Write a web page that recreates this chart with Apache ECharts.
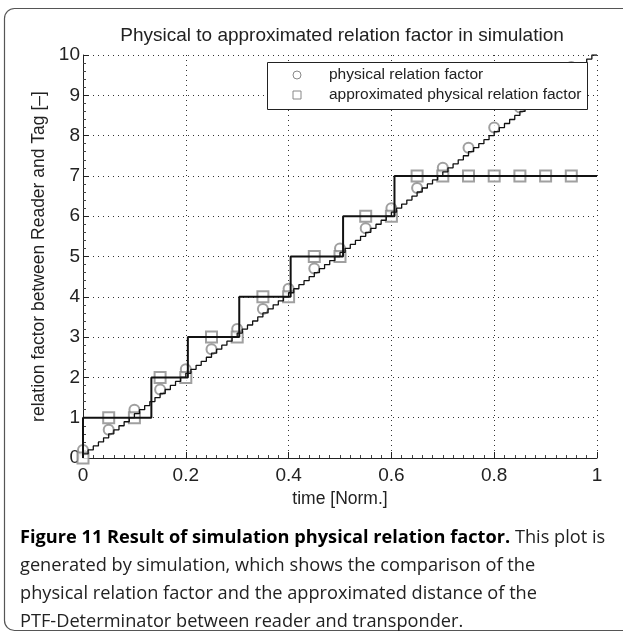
<!DOCTYPE html>
<html>
<head>
<meta charset="utf-8">
<title>Figure 11</title>
<script src="https://cdn.jsdelivr.net/npm/echarts@6/dist/echarts.min.js"></script>
<style>
  html, body { margin: 0; padding: 0; background: #fff; }
  #chart { width: 623px; height: 636px; }
</style>
</head>
<body>
<div id="chart"></div>
<script>
// physical relation factor (fine staircase)
var physTime = [0, 0, 0.01, 0.02, 0.03, 0.04, 0.05, 0.06, 0.07, 0.08, 0.09,
  0.10, 0.11, 0.12, 0.13, 0.14, 0.15, 0.16, 0.17, 0.18, 0.19,
  0.20, 0.21, 0.22, 0.23, 0.24, 0.25, 0.26, 0.27, 0.28, 0.29,
  0.30, 0.31, 0.32, 0.33, 0.34, 0.35, 0.36, 0.37, 0.38, 0.39,
  0.40, 0.41, 0.42, 0.43, 0.44, 0.45, 0.46, 0.47, 0.48, 0.49,
  0.50, 0.51, 0.52, 0.53, 0.54, 0.55, 0.56, 0.57, 0.58, 0.59,
  0.60, 0.61, 0.62, 0.63, 0.64, 0.65, 0.66, 0.67, 0.68, 0.69,
  0.70, 0.71, 0.72, 0.73, 0.74, 0.75, 0.76, 0.77, 0.78, 0.79,
  0.80, 0.81, 0.82, 0.83, 0.84, 0.85, 0.86, 0.87, 0.88, 0.89,
  0.90, 0.91, 0.92, 0.93, 0.94, 0.95, 0.96, 0.97, 0.98, 0.99, 1];
var physFactor = [0, 0.1, 0.2, 0.3, 0.4, 0.5, 0.6, 0.7, 0.8, 0.9, 1.0,
  1.1, 1.2, 1.3, 1.4, 1.5, 1.6, 1.7, 1.8, 1.9, 2.0,
  2.1, 2.2, 2.3, 2.4, 2.5, 2.6, 2.7, 2.8, 2.9, 3.0,
  3.1, 3.2, 3.3, 3.4, 3.5, 3.6, 3.7, 3.8, 3.9, 4.0,
  4.1, 4.2, 4.3, 4.4, 4.5, 4.6, 4.7, 4.8, 4.9, 5.0,
  5.1, 5.2, 5.3, 5.4, 5.5, 5.6, 5.7, 5.8, 5.9, 6.0,
  6.1, 6.2, 6.3, 6.4, 6.5, 6.6, 6.7, 6.8, 6.9, 7.0,
  7.1, 7.2, 7.3, 7.4, 7.5, 7.6, 7.7, 7.8, 7.9, 8.0,
  8.1, 8.2, 8.3, 8.4, 8.5, 8.6, 8.7, 8.8, 8.9, 9.0,
  9.1, 9.2, 9.3, 9.4, 9.5, 9.6, 9.7, 9.8, 9.9, 10.0, 10.0];

// markers (circles / squares)
var markTime = [0, 0.05, 0.10, 0.15, 0.20, 0.25, 0.30, 0.35, 0.40, 0.45,
  0.50, 0.55, 0.60, 0.65, 0.70, 0.75, 0.80, 0.85, 0.90, 0.95];
var circleFactor = [0.2, 0.7, 1.2, 1.7, 2.2, 2.7, 3.2, 3.7, 4.2, 4.7,
  5.2, 5.7, 6.2, 6.7, 7.2, 7.7, 8.2, 8.7, 9.2, 9.7];
var squareFactor = [0, 1, 1, 2, 2, 3, 3, 4, 4, 5,
  5, 6, 6, 7, 7, 7, 7, 7, 7, 7];

// approximated relation factor (coarse steps)
var approxTime = [0, 0, 0.133, 0.204, 0.304, 0.404, 0.506, 0.606, 1];
var approxFactor = [0, 1, 2, 3, 4, 5, 6, 7, 7];

var legendNames = ['physical relation factor', 'approximated physical relation factor'];

function zip(xs, ys) {
  var out = [];
  for (var i = 0; i < xs.length; i++) out.push([xs[i], ys[i]]);
  return out;
}

var font = 'Liberation Sans';
var capFont = 'Open Sans';
var chart = echarts.init(document.getElementById('chart'));

chart.setOption({
  animation: false,
  title: {
    text: 'Physical to approximated relation factor in simulation',
    left: 337, top: 21, textAlign: 'center',
    textStyle: { fontFamily: font, fontSize: 19, fontWeight: 'normal', color: '#222' }
  },
  grid: { left: 83, right: 26, top: 55, bottom: 178 },
  xAxis: {
    type: 'value', min: 0, max: 1, interval: 0.2,
    name: 'time [Norm.]', nameLocation: 'middle', nameGap: 29,
    nameTextStyle: { fontFamily: font, fontSize: 17.5, color: '#222' },
    axisLine: { lineStyle: { color: '#222', width: 1 } },
    axisTick: { inside: true, length: 6, lineStyle: { color: '#222' } },
    minorTick: { show: true, splitNumber: 10, length: 3, lineStyle: { color: '#444' } },
    splitLine: { show: true, lineStyle: { color: '#333', type: [1, 4], width: 1 } },
    axisLabel: { fontFamily: font, fontSize: 19, color: '#222', margin: 8 }
  },
  yAxis: {
    type: 'value', min: 0, max: 10, interval: 1,
    name: 'relation factor between Reader and Tag [\u2013]', nameLocation: 'middle', nameGap: 29,
    nameTextStyle: { fontFamily: font, fontSize: 17.5, color: '#222' },
    axisLine: { show: true, lineStyle: { color: '#222', width: 1 } },
    axisTick: { show: true, inside: true, length: 6, lineStyle: { color: '#222' } },
    minorTick: { show: true, splitNumber: 5, length: 3, lineStyle: { color: '#444' } },
    splitLine: { show: true, lineStyle: { color: '#333', type: [1, 4], width: 1 } },
    axisLabel: { fontFamily: font, fontSize: 19, color: '#222', margin: 3 }
  },
  series: [
    {
      name: legendNames[0],
      type: 'scatter',
      symbol: 'emptyCircle', symbolSize: 10,
      itemStyle: { color: '#888', borderWidth: 1 },
      data: zip(markTime, circleFactor), z: 2
    },
    {
      name: legendNames[1],
      type: 'scatter',
      symbol: 'emptyRect', symbolSize: 11,
      itemStyle: { color: '#888', borderWidth: 1 },
      data: zip(markTime, squareFactor), z: 2
    },
    {
      name: 'phys line',
      type: 'line', step: 'end', showSymbol: false,
      lineStyle: { color: '#111', width: 1.3 },
      data: zip(physTime, physFactor), z: 3
    },
    {
      name: 'approx line',
      type: 'line', step: 'end', showSymbol: false,
      lineStyle: { color: '#111', width: 2 },
      data: zip(approxTime, approxFactor), z: 3
    }
  ],
  graphic: [
    {
      type: 'rect', z: 0,
      shape: { x: 4.5, y: 8.5, width: 640, height: 622, r: 10 },
      style: { fill: 'none', stroke: '#555', lineWidth: 1.2 }
    },
    // legend box
    {
      type: 'rect', z: 50,
      shape: { x: 267.5, y: 62.5, width: 320, height: 47 },
      style: { fill: '#fff', stroke: '#222', lineWidth: 1 }
    },
    {
      type: 'circle', z: 51,
      shape: { cx: 297, cy: 75, r: 4 },
      style: { fill: 'none', stroke: '#888', lineWidth: 1 }
    },
    {
      type: 'rect', z: 51,
      shape: { x: 293, y: 91, width: 8, height: 8 },
      style: { fill: 'none', stroke: '#888', lineWidth: 1 }
    },
    {
      type: 'text', z: 51, x: 329, y: 75,
      style: { text: legendNames[0], fontFamily: font, fontSize: 15.5, fill: '#222', verticalAlign: 'middle' }
    },
    {
      type: 'text', z: 51, x: 329, y: 95,
      style: { text: legendNames[1], fontFamily: font, fontSize: 15.5, fill: '#222', verticalAlign: 'middle' }
    },
    {
      type: 'text', left: 20, top: 524,
      style: {
        text: '{b|Figure 11 Result of simulation physical relation factor.} This plot is\n' +
          'generated by simulation, which shows the comparison of the\n' +
          'physical relation factor and the approximated distance of the\n' +
          'PTF-Determinator between reader and transponder.',
        fontFamily: capFont, fontSize: 18.2, lineHeight: 28, fill: '#222',
        rich: {
          b: { fontFamily: capFont, fontSize: 18.2, fontWeight: 'bold', lineHeight: 28, fill: '#000' }
        }
      }
    }
  ]
});
</script>
</body>
</html>
